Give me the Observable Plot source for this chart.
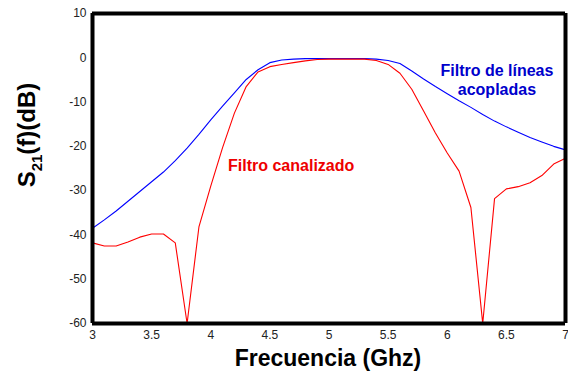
<!DOCTYPE html>
<html><head><meta charset="utf-8">
<script src="https://cdn.jsdelivr.net/npm/d3@7"></script>
<script src="https://cdn.jsdelivr.net/npm/@observablehq/plot@0.6"></script>
<style>body{margin:0;background:#fff} svg{display:block}</style>
</head><body><div id="chart"></div>
<script>
const freq = [3.0,3.1,3.2,3.3,3.4,3.5,3.6,3.7,3.8,3.9,4.0,4.1,4.2,4.3,4.4,4.5,4.6,4.7,4.8,4.9,5.0,5.1,5.2,5.3,5.4,5.5,5.6,5.7,5.8,5.9,6.0,6.1,6.2,6.3,6.4,6.5,6.6,6.7,6.8,6.9,7.0];
const canalizado = [-41.8,-42.5,-42.5,-41.6,-40.5,-39.8,-39.8,-41.8,-60,-38.2,-29,-20.3,-12.5,-6.5,-3.2,-2.0,-1.5,-1.1,-0.7,-0.4,-0.3,-0.3,-0.3,-0.3,-0.6,-1.5,-3.5,-7.1,-12,-17,-21.5,-25.6,-33.8,-60,-31.8,-29.6,-29.1,-28.2,-26.6,-24,-22.7];
const acopladas = [-38.5,-36.6,-34.6,-32.4,-30.2,-28,-25.8,-23.2,-20.4,-17.3,-14,-10.9,-7.9,-4.9,-2.7,-1.1,-0.5,-0.3,-0.2,-0.2,-0.2,-0.2,-0.2,-0.2,-0.3,-0.6,-1.3,-3,-4.8,-6.5,-8.1,-9.7,-11.2,-12.8,-14.3,-15.6,-16.8,-18,-19,-20,-20.8];
const xTicks = [3,3.5,4,4.5,5,5.5,6,6.5,7];
const yTicks = [10,0,-10,-20,-30,-40,-50,-60];
const redLabel = [{f: 4.68, v: -24.4, text: "Filtro canalizado"}];
const blueLabel = [{f: 6.42, v: -4.95, text: "Filtro de líneas\nacopladas"}];

const red = freq.map((f, i) => ({f, v: canalizado[i]}));
const blue = freq.map((f, i) => ({f, v: acopladas[i]}));

const font = "Liberation Sans, Arial, sans-serif";
const plot = Plot.plot({
  width: 568, height: 372,
  marginLeft: 92, marginRight: 3, marginTop: 13, marginBottom: 49,
  style: {fontFamily: font, background: "#fff"},
  x: {domain: [3, 7], ticks: xTicks, label: null},
  y: {domain: [-60, 10], ticks: yTicks, label: null},
  marks: [
    Plot.line(blue, {x: "f", y: "v", stroke: "#0000ff", strokeWidth: 1.1}),
    Plot.line(red, {x: "f", y: "v", stroke: "#ff0000", strokeWidth: 1.1}),
    Plot.ruleX([3], {stroke: "#000", strokeWidth: 4}),
    Plot.ruleX([7], {stroke: "#000", strokeWidth: 4}),
    Plot.ruleY([10], {stroke: "#000", strokeWidth: 4}),
    Plot.ruleY([-60], {stroke: "#000", strokeWidth: 4}),
    Plot.axisX({ticks: xTicks, tickSize: 0, tickPadding: 7, fontSize: 12, tickFormat: d => String(d), fill: "#222"}),
    Plot.axisY({ticks: yTicks, tickSize: 0, tickPadding: 6, fontSize: 12, tickFormat: d => String(d), fill: "#222"}),
    Plot.text(redLabel, {x: "f", y: "v", text: "text", fill: "#ee0000", fontSize: 16, fontWeight: "bold", fontFamily: font}),
    Plot.text(blueLabel, {x: "f", y: "v", text: "text", fill: "#0000cc", fontSize: 16, fontWeight: "bold", fontFamily: font, lineHeight: 1.15})
  ]
});
const svg = d3.select(plot);
svg.append("text")
  .attr("x", 328).attr("y", 366)
  .attr("text-anchor", "middle")
  .attr("font-family", font).attr("font-weight", "bold").attr("font-size", 23)
  .attr("fill", "#000")
  .text("Frecuencia (Ghz)");
const yl = svg.append("text")
  .attr("transform", "translate(35,135) rotate(-90)")
  .attr("text-anchor", "middle")
  .attr("font-family", font).attr("font-weight", "bold").attr("font-size", 24)
  .attr("fill", "#000");
yl.append("tspan").text("S");
yl.append("tspan").attr("font-size", 15).attr("dy", 7).text("21");
yl.append("tspan").attr("dy", -7).text("(f)(dB)");
document.getElementById("chart").appendChild(plot);
</script>
</body></html>
